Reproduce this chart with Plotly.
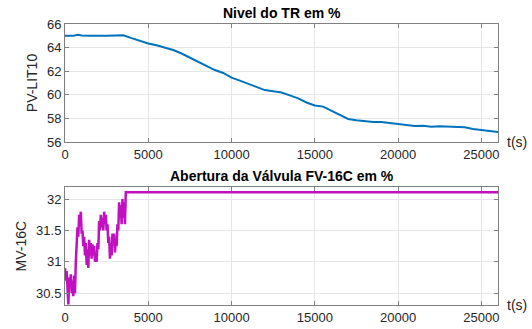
import plotly.graph_objects as go

# ---- data ----
t_level = [0, 500, 800, 1000, 1500, 2000, 2500, 3000, 3500, 4000, 4500, 5000, 5500, 6000,
           6500, 7000, 7500, 8000, 8500, 9000, 9500, 10000, 10500, 11000, 11500, 12000,
           12500, 13000, 13500, 14000, 14500, 15000, 15500, 16000, 16500, 17000, 17500,
           18000, 18500, 19000, 19500, 20000, 20500, 21000, 21500, 22000, 22500, 23000,
           23500, 24000, 24500, 25000, 25500, 26000]
level = [65.0, 65.0, 65.08, 65.03, 65.0, 65.03, 65.0, 65.02, 65.05, 64.8, 64.55, 64.35,
         64.2, 64.0, 63.8, 63.5, 63.15, 62.8, 62.4, 62.1, 61.85, 61.45, 61.2, 60.95, 60.7,
         60.4, 60.3, 60.2, 59.95, 59.7, 59.35, 59.1, 59.0, 58.65, 58.25, 57.95, 57.85,
         57.75, 57.7, 57.7, 57.6, 57.5, 57.45, 57.35, 57.38, 57.3, 57.33, 57.3, 57.32,
         57.25, 57.1, 57.0, 56.95, 56.85]

t_valve = [0, 50, 100, 150, 200, 250, 300, 350, 400, 450, 500, 550, 600, 650, 700, 750,
           800, 850, 900, 950, 1000, 1050, 1100, 1150, 1200, 1250, 1300, 1350, 1400, 1450,
           1500, 1550, 1600, 1650, 1700, 1750, 1800, 1850, 1900, 1950, 2000, 2050, 2100,
           2150, 2200, 2250, 2300, 2350, 2400, 2450, 2500, 2550, 2600, 2650, 2700, 2750,
           2800, 2850, 2900, 2950, 3000, 3050, 3100, 3150, 3200, 3250, 3300, 3350, 3400,
           3450, 3500, 3550, 3600, 3650, 26000]
valve = [30.9, 30.7, 30.85, 30.6, 30.32, 30.75, 30.62, 30.8, 30.5, 30.7, 30.45, 30.78,
         30.5, 31.0, 31.3, 31.55, 31.4, 31.75, 31.6, 31.8, 31.45, 31.5, 31.25, 31.4, 31.1,
         31.3, 30.95, 31.2, 30.9, 31.35, 31.1, 31.3, 31.05, 31.28, 31.1, 31.25, 31.0,
         31.15, 31.0, 31.3, 31.2, 31.65, 31.5, 31.75, 31.55, 31.7, 31.5, 31.8, 31.6, 31.75,
         31.5, 31.6, 31.3, 31.4, 31.05, 31.3, 31.1, 31.45, 31.3, 31.45, 31.15, 31.35,
         31.25, 31.6, 31.5, 31.95, 31.7, 31.9, 31.6, 32.0, 31.7, 31.95, 31.6, 32.11, 32.11]

x_ticks = [0, 5000, 10000, 15000, 20000, 25000]
x_tick_labels = ["0", "5000", "10000", "15000", "20000", "25000"]
y1_ticks = [56, 58, 60, 62, 64, 66]
y1_tick_labels = ["56", "58", "60", "62", "64", "66"]
y2_ticks = [30.5, 31, 31.5, 32]
y2_tick_labels = ["30.5", "31", "31.5", "32"]

title_top = "Nivel do TR em %"
title_bottom = "Abertura da Válvula FV-16C em %"

FONT = "Liberation Sans, Arial, sans-serif"

fig = go.Figure()
fig.add_trace(go.Scatter(x=t_level, y=level, mode="lines",
                         line=dict(color="#0072BD", width=2), xaxis="x", yaxis="y"))
fig.add_trace(go.Scatter(x=t_valve, y=valve, mode="lines",
                         line=dict(color="#C010C0", width=2.5), xaxis="x2", yaxis="y2"))

axis_common = dict(showline=True, linecolor="#808080", linewidth=1, mirror="ticks",
                   ticks="inside", ticklen=4, tickcolor="#808080", automargin=False,
                   showgrid=True, gridcolor="#e6e6e6", gridwidth=1, zeroline=False,
                   tickfont=dict(family=FONT, size=13, color="#262626"))

fig.update_layout(
    width=532, height=329,
    margin=dict(l=65, r=34, t=24, b=24, autoexpand=False),
    paper_bgcolor="white", plot_bgcolor="white",
    showlegend=False,
    xaxis=dict(domain=[0, 1], range=[0, 26000], tickvals=x_ticks, ticktext=x_tick_labels,
               anchor="y", **axis_common),
    yaxis=dict(domain=[0.58, 1], range=[56, 66], tickvals=y1_ticks, ticktext=y1_tick_labels,
               anchor="x",
               title=dict(text="PV-LIT10", font=dict(family=FONT, size=14, color="#262626"), standoff=6),
               **axis_common),
    xaxis2=dict(domain=[0, 1], range=[0, 26000], tickvals=x_ticks, ticktext=x_tick_labels,
                anchor="y2", **axis_common),
    yaxis2=dict(domain=[0, 0.419], range=[30.31, 32.19], tickvals=y2_ticks,
                ticktext=y2_tick_labels, anchor="x2",
                title=dict(text="MV-16C", font=dict(family=FONT, size=14, color="#262626"), standoff=6),
                **axis_common),
    annotations=[
        dict(text="<b>" + title_top + "</b>", xref="paper", yref="paper", x=0.5, y=1.0,
             yshift=1, xanchor="center", yanchor="bottom", showarrow=False,
             font=dict(family=FONT, size=14, color="black")),
        dict(text="<b>" + title_bottom + "</b>", xref="paper", yref="paper", x=0.5, y=0.419,
             yshift=1, xanchor="center", yanchor="bottom", showarrow=False,
             font=dict(family=FONT, size=14, color="black")),
        dict(text="t(s)", xref="paper", yref="paper", x=1.0, y=0.58, xshift=7,
             xanchor="left", yanchor="middle", showarrow=False,
             font=dict(family=FONT, size=14, color="#262626")),
        dict(text="t(s)", xref="paper", yref="paper", x=1.0, y=0.0, xshift=7,
             xanchor="left", yanchor="middle", showarrow=False,
             font=dict(family=FONT, size=14, color="#262626")),
    ],
)

fig.write_html("out.html", config={"displayModeBar": False},
               post_script="document.body.style.margin='0px';document.body.style.overflow='hidden';")
